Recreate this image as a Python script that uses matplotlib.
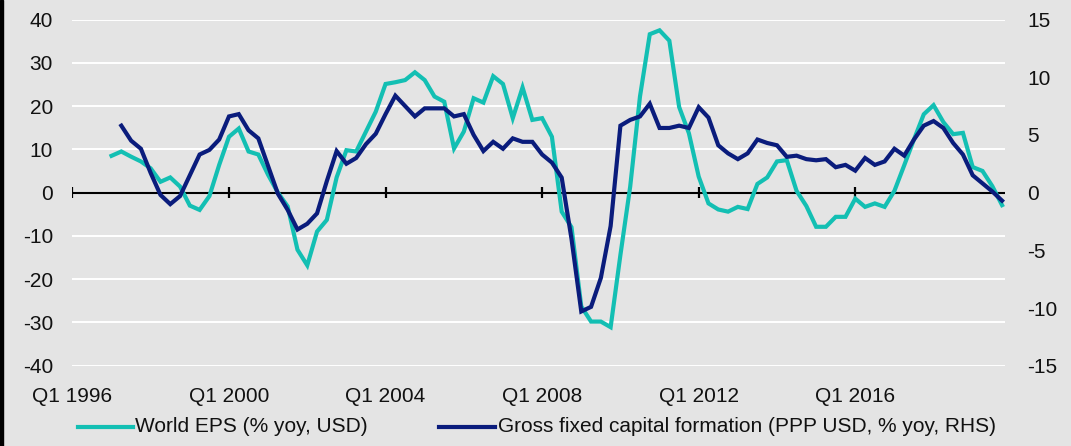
import numpy as np
import matplotlib
matplotlib.use("Agg")
import matplotlib.pyplot as plt
from matplotlib.lines import Line2D
from matplotlib.patches import Rectangle

# quarterly axis Q1 1996 .. Q4 2019
years = list(range(1996, 2020))
quarters = [f"Q{q} {y}" for y in years for q in range(1, 5)]
tick_labels = ["Q1 1996", "Q1 2000", "Q1 2004", "Q1 2008", "Q1 2012", "Q1 2016"]

# World EPS (% yoy, USD), starts Q1 1997
eps_start = "Q1 1997"
eps = [8.5, 9.5, 8.3, 7.2, 5.6, 2.5, 3.5, 1.4, -3.0, -4.0, -0.8, 6.4,
       12.9, 14.8, 9.5, 8.8, 4.1, 0.0, -3.2, -13.2, -16.8, -9.0, -6.3, 3.5,
       9.8, 9.5, 14.1, 18.7, 25.1, 25.5, 26.0, 27.8, 26.0, 22.2, 21.0, 10.2,
       14.1, 21.8, 20.8, 26.9, 25.1, 17.2, 24.3, 16.8, 17.2, 12.9, -4.4, -8.0,
       -26.3, -29.8, -29.8, -31.1, -14.4, 1.4, 22.2, 36.6, 37.5, 35.1, 19.8, 13.7,
       3.7, -2.5, -3.9, -4.4, -3.3, -3.8, 2.0, 3.5, 7.2, 7.5, 0.4, -3.1,
       -7.9, -7.9, -5.6, -5.6, -1.4, -3.3, -2.5, -3.3, 0.4, 6.3, 12.3, 18.1,
       20.2, 16.3, 13.5, 13.8, 5.9, 5.0, 1.5, -2.9]

# Gross fixed capital formation (PPP USD, % yoy), RHS, starts Q2 1997
gfcf_start = "Q2 1997"
gfcf = [5.8, 4.5, 3.8, 1.7, -0.2, -1.0, -0.3, 1.5, 3.3, 3.7, 4.6,
        6.6, 6.8, 5.4, 4.7, 2.3, -0.1, -1.5, -3.2, -2.7, -1.8, 1.0, 3.6,
        2.5, 3.0, 4.2, 5.1, 6.8, 8.4, 7.5, 6.6, 7.3, 7.3, 7.3, 6.6,
        6.8, 5.0, 3.6, 4.4, 3.8, 4.7, 4.4, 4.4, 3.3, 2.6, 1.3, -4.0,
        -10.3, -9.9, -7.4, -2.9, 5.8, 6.3, 6.6, 7.7, 5.6, 5.6, 5.8, 5.6,
        7.4, 6.5, 4.1, 3.4, 2.9, 3.4, 4.6, 4.3, 4.1, 3.1, 3.2, 2.9,
        2.8, 2.9, 2.2, 2.4, 1.9, 3.0, 2.4, 2.7, 3.8, 3.2, 4.6, 5.8,
        6.2, 5.6, 4.3, 3.3, 1.5, 0.8, 0.1, -0.7]

eps_label = "World EPS (% yoy, USD)"
gfcf_label = "Gross fixed capital formation (PPP USD, % yoy, RHS)"

teal = "#13BFB3"
navy = "#0A1C7C"
bg = "#E4E4E4"

plt.rcParams['font.family'] = ['Liberation Sans', 'DejaVu Sans']
plt.rcParams['axes.unicode_minus'] = False

W, H = 1071, 446
fig = plt.figure(figsize=(W / 100, H / 100), dpi=100, facecolor=bg)

def fx(px):
    return px / W

def fy(py):
    return 1 - py / H

left, right, top, bottom = 72.4, 1005, 19.5, 365.7
ax = fig.add_axes([fx(left), fy(bottom), fx(right - left), (bottom - top) / H])
ax.set_facecolor(bg)
ax2 = ax.twinx()

idx = {q: i for i, q in enumerate(quarters)}
x_eps = np.arange(len(eps)) + idx[eps_start]
x_gfcf = np.arange(len(gfcf)) + idx[gfcf_start]

ax.set_ylim(-40, 40)
ax2.set_ylim(-15, 15)
ax.set_xlim(0, 95.3)

for v in range(-40, 41, 10):
    if v != 0:
        ax.axhline(v, color="white", lw=1.4, zorder=1)
ax.axhline(0, color="black", lw=1.5, zorder=2)
tick_pos = [idx[t] for t in tick_labels]
ax.vlines(tick_pos, -1.3, 1.3, color="black", lw=1.6, zorder=2)

ax.plot(x_eps, eps, color=teal, lw=3, zorder=3, solid_joinstyle="miter")
ax2.plot(x_gfcf, gfcf, color=navy, lw=3, zorder=3, solid_joinstyle="miter")

ax.set_yticks(range(-40, 41, 10))
ax2.set_yticks(range(-15, 16, 5))
ax.set_xticks(tick_pos)
ax.set_xticklabels(tick_labels)
ax.tick_params(axis="y", length=0, pad=14, labelsize=15, labelcolor="#111111")
ax.tick_params(axis="x", length=0, pad=15, labelsize=15, labelcolor="#111111")
ax2.tick_params(axis="y", length=0, pad=15.8, labelsize=15, labelcolor="#111111")
for a in (ax, ax2):
    for s in a.spines.values():
        s.set_visible(False)

# legend
ly = fy(427)
fig.add_artist(Line2D([fx(78), fx(133)], [ly, ly], color=teal, lw=3))
fig.text(fx(135), ly, eps_label, fontsize=15, va="center", ha="left", color="#111111")
fig.add_artist(Line2D([fx(439), fx(495)], [ly, ly], color=navy, lw=3))
fig.text(fx(498), ly, gfcf_label, fontsize=15, va="center", ha="left", color="#111111")

fig.add_artist(Rectangle((0, 0), fx(3), 1, transform=fig.transFigure, color="black"))

fig.savefig("out.png", dpi=100, facecolor=bg)
